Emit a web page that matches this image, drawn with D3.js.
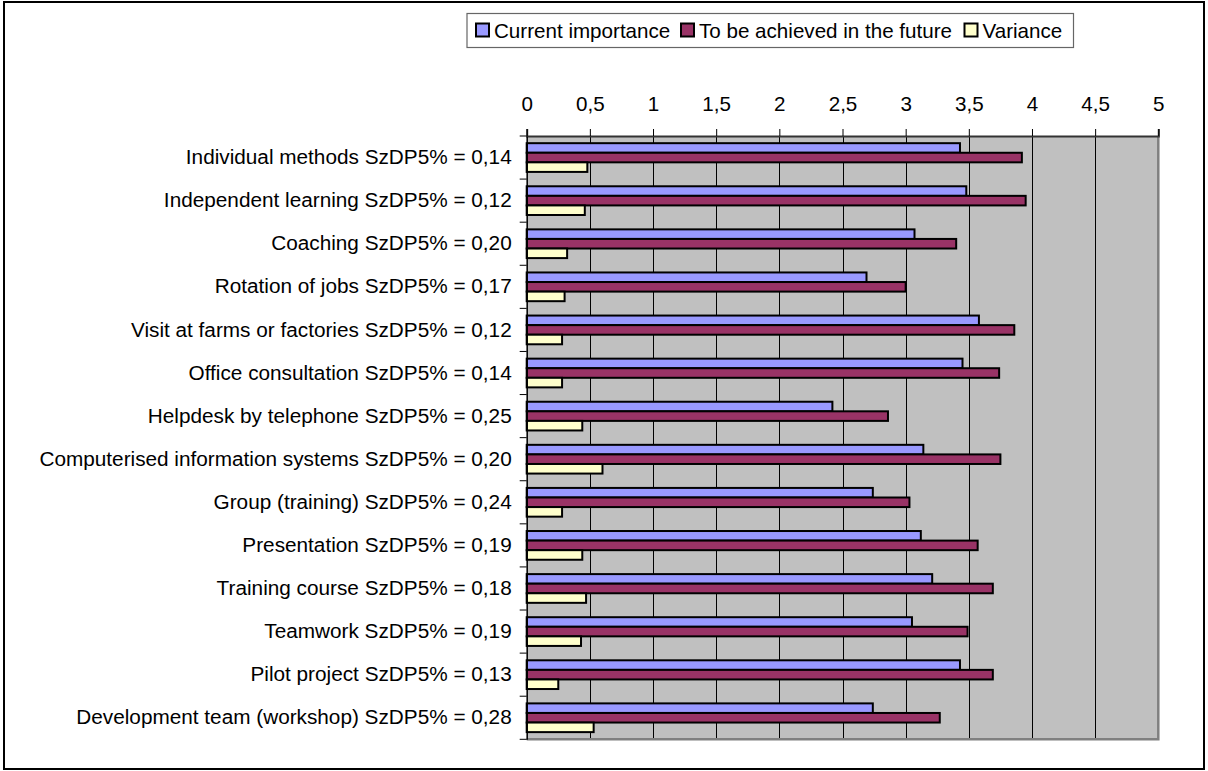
<!DOCTYPE html>
<html>
<head>
<meta charset="utf-8">
<script src="https://cdn.jsdelivr.net/npm/d3@7"></script>
<style>
  html, body { margin: 0; padding: 0; background: #fff; }
  svg { display: block; font-family: "Liberation Sans", Arial, sans-serif; }
</style>
</head>
<body>
<svg id="chart" width="1208" height="771"></svg>
<script>
// Training methods, rated on a 0–5 scale
const categories = [
  "Individual methods SzDP5% = 0,14",
  "Independent learning SzDP5% = 0,12",
  "Coaching SzDP5% = 0,20",
  "Rotation of jobs SzDP5% = 0,17",
  "Visit at farms or factories SzDP5% = 0,12",
  "Office consultation SzDP5% = 0,14",
  "Helpdesk by telephone SzDP5% = 0,25",
  "Computerised information systems SzDP5% = 0,20",
  "Group (training) SzDP5% = 0,24",
  "Presentation SzDP5% = 0,19",
  "Training course SzDP5% = 0,18",
  "Teamwork SzDP5% = 0,19",
  "Pilot project SzDP5% = 0,13",
  "Development team (workshop) SzDP5% = 0,28"
];
const currentImportance = [3.43, 3.48, 3.07, 2.69, 3.58, 3.45, 2.42, 3.14, 2.74, 3.12, 3.21, 3.05, 3.43, 2.74];
const futureTarget      = [3.92, 3.95, 3.40, 3.00, 3.86, 3.74, 2.86, 3.75, 3.03, 3.57, 3.69, 3.49, 3.69, 3.27];
const variance          = [0.48, 0.46, 0.32, 0.30, 0.28, 0.28, 0.44, 0.60, 0.28, 0.44, 0.47, 0.43, 0.25, 0.53];
const seriesNames = ["Current importance", "To be achieved in the future", "Variance"];
const seriesColors = ["#9999FF", "#993366", "#FFFFCC"];
const tickValues = [0, 0.5, 1, 1.5, 2, 2.5, 3, 3.5, 4, 4.5, 5];

const seriesData = [currentImportance, futureTarget, variance];

const svg = d3.select("#chart");
const FONT = 20.6;
const LABEL_FONT = 20.75;

// outer frame
svg.append("rect")
  .attr("x", 4).attr("y", 2).attr("width", 1200).attr("height", 767)
  .attr("fill", "#fff").attr("stroke", "#000").attr("stroke-width", 2);

const plot = { left: 526.7, right: 1158.3, top: 136, bottom: 739.3 };

const x = d3.scaleLinear().domain([0, 5]).range([plot.left, plot.right]);
const y = d3.scaleBand().domain(categories).range([plot.top, plot.bottom]).padding(0);
const groupH = y.bandwidth() / 1.5;
const inner = d3.scaleBand().domain(d3.range(3)).range([0, groupH]).padding(0);

// plot area background
svg.append("rect")
  .attr("x", plot.left).attr("y", plot.top)
  .attr("width", plot.right - plot.left).attr("height", plot.bottom - plot.top)
  .attr("fill", "#C0C0C0");

// vertical gridlines
svg.append("g")
  .selectAll("line")
  .data(tickValues.filter(v => v > 0 && v < 5))
  .join("line")
  .attr("x1", d => Math.round(x(d)) + 0.5).attr("x2", d => Math.round(x(d)) + 0.5)
  .attr("y1", plot.top).attr("y2", plot.bottom)
  .attr("stroke", "#000").attr("stroke-width", 1);

// plot-area border (right and bottom edges in gray)
svg.append("path")
  .attr("d", `M${plot.right},${plot.top}V${plot.bottom}H${plot.left}`)
  .attr("fill", "none").attr("stroke", "#808080").attr("stroke-width", 2.5);

// bars
const groups = svg.append("g").selectAll("g")
  .data(categories)
  .join("g")
  .attr("transform", d => `translate(0,${y(d) + (y.bandwidth() - groupH) / 2})`);

groups.selectAll("rect")
  .data((d, i) => seriesData.map((s, k) => ({ k, v: s[i] })))
  .join("rect")
  .attr("x", x(0))
  .attr("y", d => inner(d.k))
  .attr("width", d => x(d.v) - x(0))
  .attr("height", inner.bandwidth())
  .attr("fill", d => seriesColors[d.k])
  .attr("stroke", "#000")
  .attr("stroke-width", 2);

// top value axis
const xAxis = d3.axisTop(x).tickValues(tickValues).tickSizeOuter(0).tickSize(7).tickPadding(18)
  .tickFormat(d => String(d).replace(".", ","));
const gx = svg.append("g").attr("transform", `translate(0,${plot.top})`).call(xAxis);
gx.select(".domain").attr("stroke", "#333").attr("stroke-width", 2);
gx.selectAll(".tick line").attr("stroke", "#000");
gx.selectAll(".tick text").attr("font-size", FONT).attr("fill", "#000")
  .attr("font-family", "Liberation Sans, Arial, sans-serif");

// left category axis
const yAxis = d3.axisLeft(y).tickSize(0).tickPadding(15).tickSizeOuter(0);
const gy = svg.append("g").attr("transform", `translate(${plot.left},0)`).call(yAxis);
gy.select(".domain").attr("stroke", "#000").attr("stroke-width", 1.5);
gy.selectAll(".tick text").attr("font-size", LABEL_FONT).attr("fill", "#000")
  .attr("font-family", "Liberation Sans, Arial, sans-serif");

// category boundary ticks
const bounds = categories.map(c => y(c)).concat([plot.bottom]);
svg.append("g").selectAll("line")
  .data(bounds)
  .join("line")
  .attr("x1", plot.left - 7).attr("x2", plot.left)
  .attr("y1", d => d).attr("y2", d => d)
  .attr("stroke", "#000").attr("stroke-width", 1);

// legend
const legend = svg.append("g");
legend.append("rect")
  .attr("x", 467).attr("y", 13.5).attr("width", 606.5).attr("height", 34)
  .attr("fill", "#fff").attr("stroke", "#666").attr("stroke-width", 1.2);

const legendX = [475, 680, 963.5];
const item = legend.selectAll("g.item")
  .data(seriesNames)
  .join("g").attr("class", "item")
  .attr("transform", (d, i) => `translate(${legendX[i]},0)`);
item.append("rect")
  .attr("x", 1).attr("y", 23.5).attr("width", 13).attr("height", 13)
  .attr("fill", (d, i) => seriesColors[i])
  .attr("stroke", "#000").attr("stroke-width", 2);
item.append("text")
  .attr("x", 19).attr("y", 37.5)
  .attr("font-size", FONT).attr("fill", "#000")
  .text(d => d);
</script>
</body>
</html>
